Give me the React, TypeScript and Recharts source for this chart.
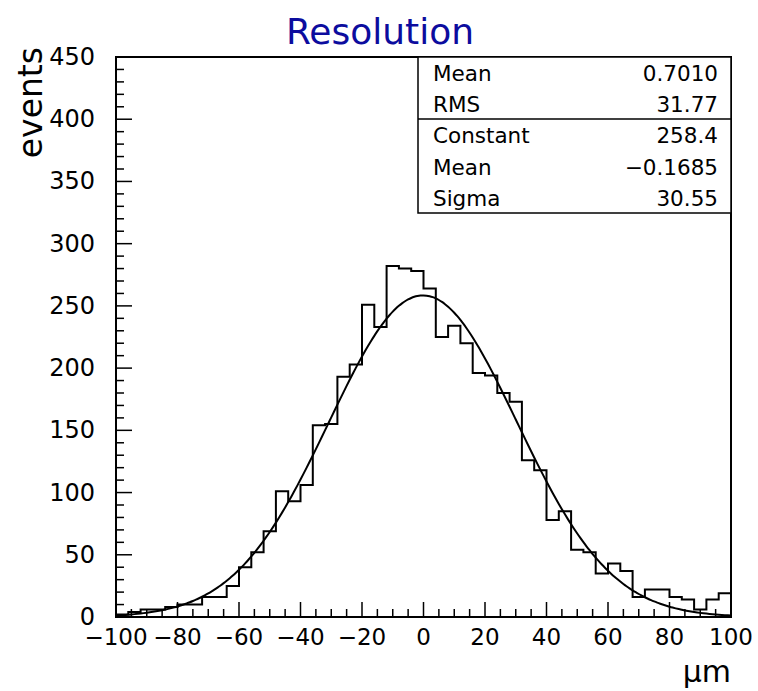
import React from "react";
import {
  ComposedChart,
  Line,
  XAxis,
  YAxis,
  ReferenceArea,
} from "recharts";

// ---- Data ----
const binLowEdges = [
  -100, -96, -92, -88, -84, -80, -76, -72, -68, -64,
  -60, -56, -52, -48, -44, -40, -36, -32, -28, -24,
  -20, -16, -12, -8, -4, 0, 4, 8, 12, 16,
  20, 24, 28, 32, 36, 40, 44, 48, 52, 56,
  60, 64, 68, 72, 76, 80, 84, 88, 92, 96,
];
const binUpperEnd = 100;
const binCounts = [
  2, 4, 6, 6, 8, 10, 10, 16, 16, 25,
  40, 52, 69, 101, 93, 106, 154, 155, 193, 203,
  251, 233, 282, 280, 278, 264, 225, 234, 220, 196,
  194, 180, 173, 126, 118, 78, 85, 54, 52, 35,
  43, 37, 16, 22, 22, 16, 14, 6, 14, 19,
];

// Fit parameters (from the stats box)
const fitConstant = 258.4;
const fitMean = -0.1685;
const fitSigma = 30.55;

const statsRows1 = [
  { label: "Mean", value: "0.7010" },
  { label: "RMS", value: "31.77" },
];
const statsRows2 = [
  { label: "Constant", value: "258.4" },
  { label: "Mean", value: "\u22120.1685" },
  { label: "Sigma", value: "30.55" },
];

const xTicks = [
  -100, -95, -90, -85, -80, -75, -70, -65, -60, -55, -50, -45, -40, -35, -30, -25, -20, -15, -10, -5,
  0, 5, 10, 15, 20, 25, 30, 35, 40, 45, 50, 55, 60, 65, 70, 75, 80, 85, 90, 95, 100,
];
const xMajor = [-100, -80, -60, -40, -20, 0, 20, 40, 60, 80, 100];
const yTicks = [
  0, 10, 20, 30, 40, 50, 60, 70, 80, 90, 100, 110, 120, 130, 140, 150, 160, 170, 180, 190,
  200, 210, 220, 230, 240, 250, 260, 270, 280, 290, 300, 310, 320, 330, 340, 350, 360, 370,
  380, 390, 400, 410, 420, 430, 440, 450,
];
const yMajor = [0, 50, 100, 150, 200, 250, 300, 350, 400, 450];

// ---- Derived tables ----
const histData = binLowEdges
  .map((x, i) => ({ x, h: binCounts[i] }))
  .concat([{ x: binUpperEnd, h: binCounts[binCounts.length - 1] }]);

const fitData: { x: number; f: number }[] = [];
for (let x = -100; x <= 100; x += 1) {
  const z = (x - fitMean) / fitSigma;
  fitData.push({ x, f: fitConstant * Math.exp(-0.5 * z * z) });
}

const FONT = "'DejaVu Sans', sans-serif";
const fmt = (v: number) => (v < 0 ? "\u2212" + Math.abs(v) : String(v));

const XTick = (props: any) => {
  const { x, y, payload } = props;
  const v = payload.value;
  const major = xMajor.includes(v);
  return (
    <g>
      <line x1={x} x2={x} y1={y} y2={y - (major ? 15 : 8)} stroke="#000" strokeWidth={1.5} />
      {major && (
        <text x={x} y={y + 28} textAnchor="middle" fontFamily={FONT} fontSize={23} fill="#000">
          {fmt(v)}
        </text>
      )}
    </g>
  );
};

const YTick = (props: any) => {
  const { x, y, payload } = props;
  const v = payload.value;
  const major = yMajor.includes(v);
  return (
    <g>
      <line x1={x} x2={x + (major ? 16 : 8)} y1={y} y2={y} stroke="#000" strokeWidth={1.5} />
      {major && (
        <text x={x - 21} y={y + 8} textAnchor="end" fontFamily={FONT} fontSize={24} fill="#000">
          {fmt(v)}
        </text>
      )}
    </g>
  );
};

export default function App() {
  return (
    <div style={{ position: "absolute", left: 0, top: 0, width: 758, height: 691, background: "#fff" }}>
      <ComposedChart
        width={758}
        height={691}
        margin={{ top: 57, right: 27, bottom: 34, left: 0 }}
      >
        <XAxis
          type="number"
          dataKey="x"
          domain={[-100, 100]}
          ticks={xTicks}
          interval={0}
          allowDataOverflow
          height={40}
          tickSize={0}
          tickMargin={0}
          tick={<XTick />}
          axisLine={{ stroke: "#000", strokeWidth: 2 }}
        />
        <YAxis
          type="number"
          domain={[0, 450]}
          ticks={yTicks}
          interval={0}
          allowDataOverflow
          width={116}
          tickSize={0}
          tickMargin={0}
          tick={<YTick />}
          axisLine={{ stroke: "#000", strokeWidth: 2 }}
        />
        <ReferenceArea x1={-100} x2={100} y1={0} y2={450} fill="none" stroke="#000" strokeWidth={2} fillOpacity={0} />
        <Line
          data={histData}
          dataKey="h"
          type="stepAfter"
          stroke="#000"
          strokeWidth={2}
          dot={false}
          isAnimationActive={false}
        />
        <Line
          data={fitData}
          dataKey="f"
          type="monotone"
          stroke="#000"
          strokeWidth={2}
          dot={false}
          isAnimationActive={false}
        />
      </ComposedChart>
      <svg
        width={758}
        height={691}
        style={{ position: "absolute", left: 0, top: 0, pointerEvents: "none" }}
      >
        <text x={380} y={44} textAnchor="middle" fontFamily={FONT} fontSize={36} fill="#0c0c9e">
          Resolution
        </text>
        <text
          x={42}
          y={47}
          transform="rotate(-90 42 47)"
          textAnchor="end"
          fontFamily={FONT}
          fontSize={33}
          fill="#000"
        >
          events
        </text>
        <text x={731} y={682} textAnchor="end" fontFamily={FONT} fontSize={30} fill="#000">
          {"\u03bcm"}
        </text>
        <g>
          <rect x={418} y={57} width={313} height={156} fill="#fff" stroke="#000" strokeWidth={1.5} />
          <line x1={418} x2={731} y1={119} y2={119} stroke="#000" strokeWidth={1.5} />
          {statsRows1.concat(statsRows2).map((r, i) => (
            <g key={i}>
              <text x={433} y={81 + i * 31.2} fontFamily={FONT} fontSize={21.5} fill="#000">
                {r.label}
              </text>
              <text x={718} y={81 + i * 31.2} textAnchor="end" fontFamily={FONT} fontSize={21.5} fill="#000">
                {r.value}
              </text>
            </g>
          ))}
        </g>
      </svg>
    </div>
  );
}
